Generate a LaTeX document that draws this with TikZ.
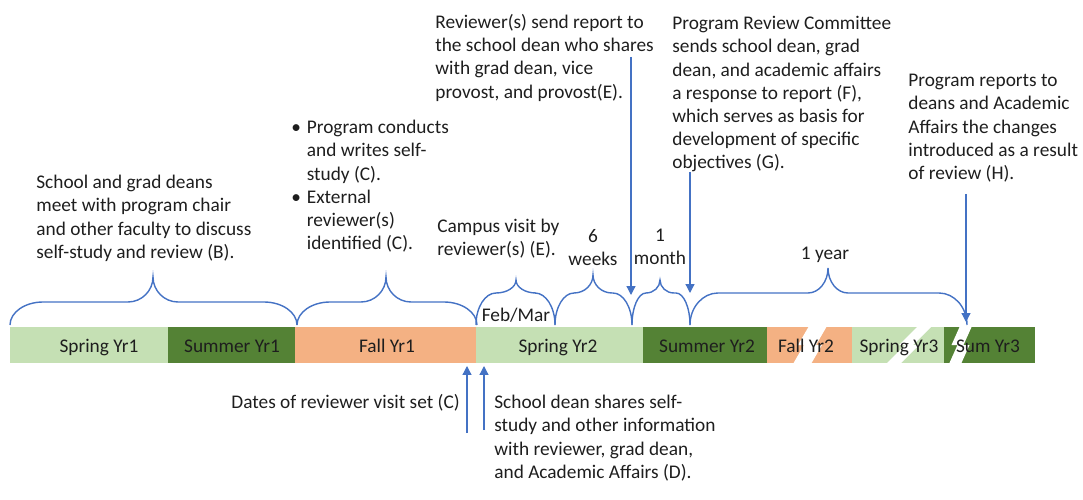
\documentclass[tikz,border=0pt]{standalone}
\usepackage{fontspec}
\setmainfont{Carlito}
\usetikzlibrary{arrows.meta}

\definecolor{springgreen}{HTML}{C5E0B4}
\definecolor{summergreen}{HTML}{548235}
\definecolor{fallorange}{HTML}{F4B183}
\definecolor{linkblue}{HTML}{4472C4}
\definecolor{inkgray}{HTML}{1E1E1E}

\tikzset{
  txt/.style={font=\fontsize{11}{13.2}\selectfont, text=inkgray, inner sep=0pt,
    align=left, anchor=north west, execute at begin node=\strut},
  seglabel/.style={font=\fontsize{11}{13.2}\selectfont, text=inkgray, inner sep=0pt, anchor=base},
  curly/.style={draw=linkblue, line width=0.8pt},
  arr/.style={draw=linkblue, line width=0.7pt, -{Triangle[width=5pt,length=5pt]}},
}

% word style curly brace: left end, peak, right end, flat y, peak y, end bend, peak bend
\newcommand{\tlbrace}[7]{%
  \draw[curly] (#1,325) .. controls (#1,{325-0.55*(325-#4)}) and ({#1+0.45*#6},#4) .. ({#1+#6},#4)
    -- ({#2-#7},#4) .. controls ({#2-0.45*#7},#4) and (#2,{#5+0.55*(#4-#5)}) .. (#2,#5)
    .. controls (#2,{#5+0.55*(#4-#5)}) and ({#2+0.45*#7},#4) .. ({#2+#7},#4)
    -- ({#3-#6},#4) .. controls ({#3-0.45*#6},#4) and (#3,{325-0.55*(325-#4)}) .. (#3,325);}

% white zigzag cut in the bar: top centre, bottom centre, half width
\newcommand{\tlbreak}[3]{%
  \fill[white] ({#1-#3},326) -- ({#1+#3},326) -- ({(#1+#2)/2+#3-3},345)
    -- ({(#1+#2)/2+#3+3},345) -- ({#2+#3},364) -- ({#2-#3},364)
    -- ({(#1+#2)/2-#3+3},345) -- ({(#1+#2)/2-#3-3},345) -- cycle;}

\newcommand{\bul}{\makebox[0.31cm][l]{\textbullet}}
\newcommand{\ind}{\hspace*{0.31cm}}

\begin{document}
\begin{tikzpicture}[x=0.02cm, y=-0.02cm]

    \useasboundingbox (0,0) rectangle (1083,500);

    % timeline bar
    \foreach \a/\b/\c in {10/168/springgreen, 168/295/summergreen, 295/476/fallorange,
        476/643/springgreen, 643/767/summergreen, 767/852/fallorange,
        852/944/springgreen, 944/1035/summergreen}
      \fill[\c] (\a,327) rectangle (\b,363);

    % cuts
    \tlbreak{818}{802}{9}
    \tlbreak{925}{893}{7}
    \tlbreak{966}{955}{6}

    % terms
    \foreach \m/\t [count=\i] in {99/Spring Yr1, 232/Summer Yr1, 387/Fall Yr1,
        558/Spring Yr2, 707/Summer Yr2, 806/Fall Yr2, 899/Spring Yr3, 988/Sum Yr3}
      \node[seglabel] (seg\i) at (\m,352) {\t};

    % braces
    \tlbrace{10}{153}{297}{302}{277}{33}{25}
    \tlbrace{297}{386}{477}{302}{277}{33}{25}
    \tlbrace{476}{516}{555}{293}{280}{20}{20}
    \tlbrace{555}{593}{632}{293}{275}{19}{19}
    \tlbrace{632}{660}{690}{293}{280}{14}{14}
    \tlbrace{690}{828}{967}{293}{268}{28}{20}

    % texts above
    \node[txt] (meetB) at (36,175) {School and grad deans\\meet with program chair\\and other faculty to discuss\\self-study and review (B).};
    \node[txt] (studyC) at (291,120) {\bul Program conducts\\\ind and writes self-\\\ind study (C).\\\bul External\\\ind reviewer(s)\\\ind identified (C).};
    \node[txt] (visitE) at (437,219) {Campus visit by\\reviewer(s) (E).};
    \node[txt] (reportE) at (435,14) {Reviewer(s) send report to\\the school dean who shares\\with grad dean, vice\\provost, and provost(E).};
    \node[txt] (responseF) at (672,16) {Program Review Committee\\sends school dean, grad\\dean, and academic affairs\\a response to report (F),\\which serves as basis for\\development of specific\\objectives (G).};
    \node[txt] (changesH) at (908,74) {Program reports to\\deans and Academic\\Affairs the changes\\introduced as a result\\of review (H).};

    % durations
    \node[txt, align=center, anchor=north] (weeks) at (593,229) {6\\weeks};
    \node[txt, align=center, anchor=north] (month) at (660,229) {1\\month};
    \node[seglabel] (year) at (825,259) {1 year};
    \node[seglabel] (febmar) at (516,321) {Feb/Mar};

    % texts below
    \node[txt, anchor=north east] (datesC) at (460,392) {Dates of reviewer visit set (C)};
    \node[txt] (sharesD) at (494,395) {School dean shares self-\\study and other information\\with reviewer, grad dean,\\and Academic Affairs (D).};

    % arrows
    \coordinate (fromE) at (631,57);
    \coordinate (tipE) at (631,295);
    \coordinate (fromF) at (690,172);
    \coordinate (tipF) at (690,293);
    \coordinate (fromH) at (966,194);
    \coordinate (tipH) at (966,322);
    \coordinate (fromC) at (467,433);
    \coordinate (tipC) at (467,366);
    \coordinate (fromD) at (484,430);
    \coordinate (tipD) at (484,366);
    \draw[arr] (fromE) -- (tipE);
    \draw[arr] (fromF) -- (tipF);
    \draw[arr] (fromH) -- (tipH);
    \draw[arr] (fromC) -- (tipC);
    \draw[arr] (fromD) -- (tipD);

\end{tikzpicture}
\end{document}
